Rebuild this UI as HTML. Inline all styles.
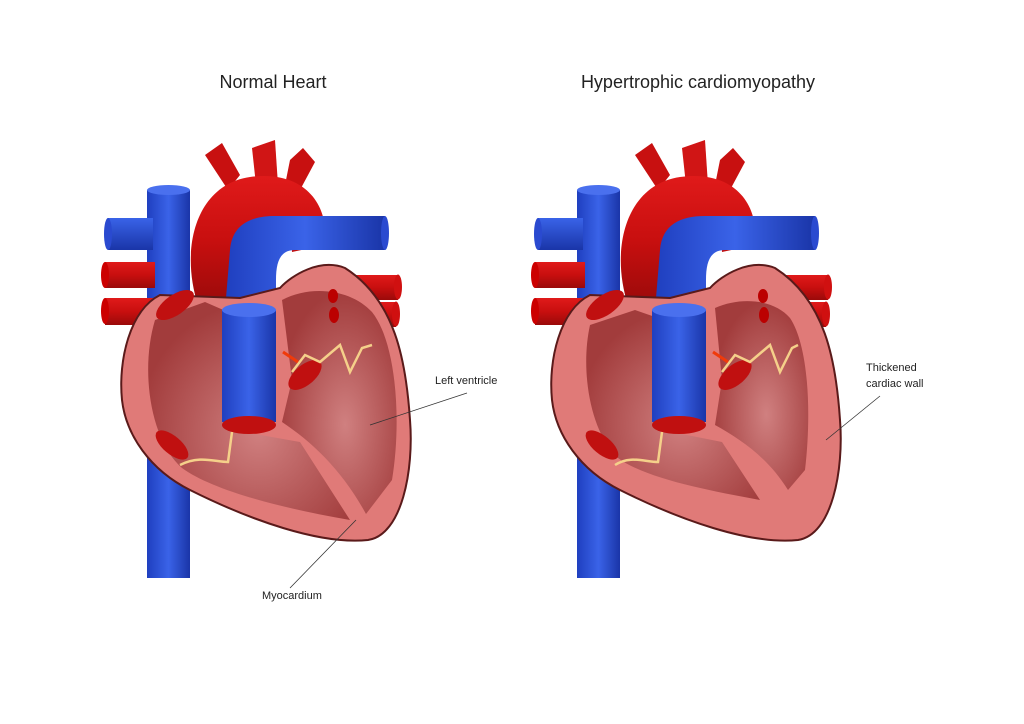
<!DOCTYPE html>
<html><head><meta charset="utf-8"><style>
html,body{margin:0;padding:0;background:#fff;}
svg{display:block;}
text{font-family:"Liberation Sans",sans-serif;fill:#222;}
</style></head><body>
<svg width="1024" height="724" viewBox="0 0 1024 724" xmlns="http://www.w3.org/2000/svg">
<defs>
<linearGradient id="blue" x1="0" x2="1" y1="0" y2="0"><stop offset="0" stop-color="#1f3fbf"/><stop offset="0.5" stop-color="#3a63e8"/><stop offset="1" stop-color="#1a35a8"/></linearGradient>
<linearGradient id="blueh" x1="0" x2="0" y1="0" y2="1"><stop offset="0" stop-color="#3a63e8"/><stop offset="1" stop-color="#1a35a8"/></linearGradient>
<linearGradient id="red" x1="0" x2="0" y1="0" y2="1"><stop offset="0" stop-color="#e01a1a"/><stop offset="0.5" stop-color="#c80f0f"/><stop offset="1" stop-color="#9a0a0a"/></linearGradient>
<radialGradient id="cav" cx="0.55" cy="0.6" r="0.6"><stop offset="0" stop-color="#d08080"/><stop offset="1" stop-color="#a23c3c"/></radialGradient>
<g id="vessels">
  <rect x="147" y="190" width="43" height="388" fill="url(#blue)"/>
  <ellipse cx="168.5" cy="190" rx="21.5" ry="5" fill="#4a70ee"/>
  <rect x="108" y="218" width="45" height="32" fill="url(#blueh)"/>
  <ellipse cx="108" cy="234" rx="4" ry="16" fill="#2a4ad0"/>
  <rect x="105" y="262" width="50" height="26" fill="url(#red)"/>
  <ellipse cx="105" cy="275" rx="4" ry="13" fill="#c00"/>
  <rect x="105" y="298" width="50" height="27" fill="url(#red)"/>
  <ellipse cx="105" cy="311" rx="4" ry="13" fill="#c00"/>
  <rect x="330" y="275" width="68" height="25" fill="url(#red)"/>
  <ellipse cx="398" cy="287" rx="4" ry="12.5" fill="#d01010"/>
  <rect x="330" y="302" width="66" height="25" fill="url(#red)"/>
  <ellipse cx="396" cy="314" rx="4" ry="12.5" fill="#d01010"/>
  <path d="M205,155 L222,143 L240,175 L228,190 Z" fill="#c81010"/>
  <path d="M252,148 L275,140 L278,185 L256,185 Z" fill="#d01515"/>
  <path d="M290,160 L303,148 L315,162 L300,190 L285,185 Z" fill="#c81010"/>
  <path d="M198,305 C180,250 195,185 250,177 C300,170 330,200 325,245 L292,252 C292,232 280,220 262,222 C240,224 234,250 238,305 Z" fill="url(#red)"/>
  <path d="M225,310 L230,250 C232,225 250,216 275,216 L385,216 L385,250 L295,250 C280,250 276,262 276,280 L276,310 Z" fill="url(#blue)"/>
  <ellipse cx="385" cy="233" rx="4" ry="17" fill="#2a4ad0"/>
</g>
</defs>

<text x="273" y="88" font-size="18" text-anchor="middle" fill="#111">Normal Heart</text>
<text x="698" y="88" font-size="18" text-anchor="middle" fill="#111">Hypertrophic cardiomyopathy</text>

<g>
<use href="#vessels"/>
<path d="M160,295 C130,310 118,360 122,400 C126,435 150,470 190,490 C250,520 320,545 368,540 C402,535 414,470 410,420 C406,360 395,300 345,268 C320,258 292,275 280,288 L240,298 Z" fill="#e07a78" stroke="#5a1a1a" stroke-width="2"/>
<path d="M155,320 L205,302 L228,312 L232,430 L300,442 L350,520 C280,508 212,490 182,468 C150,440 140,370 155,320 Z" fill="url(#cav)"/>
<path d="M282,300 C312,284 352,290 372,312 C396,342 402,420 392,480 L366,514 C342,470 312,442 282,422 L292,380 Z" fill="url(#cav)"/>
<rect x="222" y="310" width="54" height="112" fill="url(#blue)"/>
<ellipse cx="249" cy="310" rx="27" ry="7" fill="#4a70ee"/>
<ellipse cx="249" cy="425" rx="27" ry="9" fill="#c01010"/>
<ellipse cx="175" cy="305" rx="22" ry="10" transform="rotate(-35 175 305)" fill="#c01010"/>
<ellipse cx="172" cy="445" rx="20" ry="9" transform="rotate(40 172 445)" fill="#c01010"/>
<ellipse cx="305" cy="375" rx="20" ry="10" transform="rotate(-40 305 375)" fill="#c01010"/>
<ellipse cx="333" cy="296" rx="5" ry="7" fill="#b00"/><ellipse cx="334" cy="315" rx="5" ry="8" fill="#b00"/>
<path d="M292,372 L305,355 L320,362 L340,345 L350,372 L362,348 L372,345" fill="none" stroke="#f5d08a" stroke-width="2.5"/>
<path d="M180,465 C200,455 215,462 228,462 L232,432" fill="none" stroke="#f5d08a" stroke-width="2.5"/>
<path d="M283,352 L298,362" stroke="#f03a0a" stroke-width="3"/>
<text x="435" y="384" font-size="11">Left ventricle</text>
<line x1="467" y1="393" x2="370" y2="425" stroke="#333" stroke-width="0.8"/>
<text x="262" y="599" font-size="11">Myocardium</text>
<line x1="290" y1="588" x2="356" y2="520" stroke="#333" stroke-width="0.8"/>
</g>

<g transform="translate(430,0)">
<use href="#vessels"/>
<path d="M160,295 C130,310 118,360 122,400 C126,435 150,470 190,490 C250,520 320,545 368,540 C402,535 414,470 410,420 C406,360 395,300 345,268 C320,258 292,275 280,288 L240,298 Z" fill="#e07a78" stroke="#5a1a1a" stroke-width="2"/>
<path d="M160,325 L205,310 L228,318 L232,430 L292,442 L330,500 C275,490 215,478 188,458 C160,432 150,370 160,325 Z" fill="url(#cav)"/>
<path d="M285,308 C312,296 345,300 360,318 C378,345 382,410 375,470 L358,490 C338,458 312,440 285,425 L292,380 Z" fill="url(#cav)"/>
<rect x="222" y="310" width="54" height="112" fill="url(#blue)"/>
<ellipse cx="249" cy="310" rx="27" ry="7" fill="#4a70ee"/>
<ellipse cx="249" cy="425" rx="27" ry="9" fill="#c01010"/>
<ellipse cx="175" cy="305" rx="22" ry="10" transform="rotate(-35 175 305)" fill="#c01010"/>
<ellipse cx="172" cy="445" rx="20" ry="9" transform="rotate(40 172 445)" fill="#c01010"/>
<ellipse cx="305" cy="375" rx="20" ry="10" transform="rotate(-40 305 375)" fill="#c01010"/>
<ellipse cx="333" cy="296" rx="5" ry="7" fill="#b00"/><ellipse cx="334" cy="315" rx="5" ry="8" fill="#b00"/>
<path d="M292,372 L305,355 L320,362 L340,345 L350,372 L362,348 L368,345" fill="none" stroke="#f5d08a" stroke-width="2.5"/>
<path d="M185,465 C200,455 215,462 228,462 L232,432" fill="none" stroke="#f5d08a" stroke-width="2.5"/>
<path d="M283,352 L298,362" stroke="#f03a0a" stroke-width="3"/>
</g>
<text x="866" y="371" font-size="11">Thickened</text>
<text x="866" y="387" font-size="11">cardiac wall</text>
<line x1="880" y1="396" x2="826" y2="440" stroke="#333" stroke-width="0.8"/>
</svg>
</body></html>
